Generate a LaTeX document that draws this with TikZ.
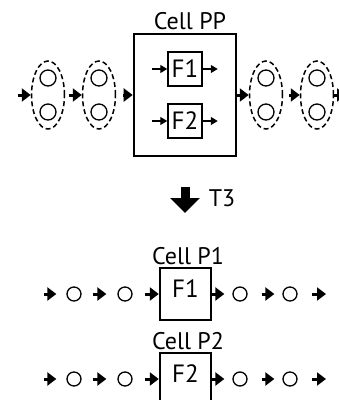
\documentclass[tikz,border=0pt]{standalone}
\usepackage{fontspec}
\setmainfont{PT Sans}
\usetikzlibrary{arrows.meta,shapes.geometric,positioning}

\begin{document}
\begin{tikzpicture}[x=1pt, y=-1pt,
  every node/.style={font=\fontsize{24}{28}\selectfont},
  flow/.style={line width=3pt, -{Triangle[length=9pt, width=13pt]}},
  thinflow/.style={line width=1.4pt, -{Triangle[length=7pt, width=8pt]}},
  bunch/.style={draw, ellipse, line width=1.5pt, dash pattern=on 5pt off 3pt, minimum width=33pt, minimum height=68pt, inner sep=0pt},
  piece/.style={draw, circle, line width=1.3pt, minimum size=16pt, inner sep=0pt},
  smallpiece/.style={draw, circle, line width=1.3pt, minimum size=14pt, inner sep=0pt},
  cellbox/.style={draw, line width=2.6pt, minimum width=102pt, minimum height=122pt},
  funcbox/.style={draw, line width=1.5pt, minimum size=34pt, inner sep=0pt, font=\fontsize{25}{28}\selectfont},
  splitbox/.style={draw, line width=2.4pt, minimum width=51pt, minimum height=52pt, inner sep=0pt, text depth=10pt, font=\fontsize{25}{28}\selectfont}]
  \useasboundingbox (0,0) rectangle (339,400);

  \node (pplbl) at (190,21) {Cell PP};
  \node[cellbox] (pp) at (185,95) {};
  \node[funcbox] (f1) at (185,69) {F1};
  \node[funcbox] (f2) at (185,121) {F2};
  \coordinate[left=15pt of f1] (f1in);
  \coordinate[right=15pt of f1] (f1out);
  \coordinate[left=15pt of f2] (f2in);
  \coordinate[right=15pt of f2] (f2out);
  \draw[thinflow] (f1in) -- (f1);
  \draw[thinflow] (f1) -- (f1out);
  \draw[thinflow] (f2in) -- (f2);
  \draw[thinflow] (f2) -- (f2out);

  \node[bunch] (e1) at (48,95) {};
  \node[bunch] (e2) at (99,95) {};
  \node[bunch] (e3) at (266,95) {};
  \node[bunch] (e4) at (317,95) {};
  \node[piece] (e1a) at (48,78) {};
  \node[piece] (e1b) at (48,112) {};
  \node[piece] (e2a) at (99,78) {};
  \node[piece] (e2b) at (99,112) {};
  \node[piece] (e3a) at (266,78) {};
  \node[piece] (e3b) at (266,112) {};
  \node[piece] (e4a) at (317,78) {};
  \node[piece] (e4b) at (317,112) {};
  \coordinate (ppin) at (18,95);
  \coordinate (ppout) at (346,95);
  \draw[flow] (ppin) -- (e1.west);
  \draw[flow, shorten <=4pt] (e1.east) -- (e2.west);
  \draw[flow, shorten <=7pt] (e2.east) -- (pp.west);
  \draw[flow] (pp.east) -- (e3.west);
  \draw[flow, shorten <=6pt] (e3.east) -- (e4.west);
  \draw[flow] (e4.east) -- (ppout);

  \coordinate (t3top) at (185,187);
  \coordinate (t3tip) at (185,213);
  \draw[line width=9pt, -{Triangle[length=15pt, width=29pt]}] (t3top) -- (t3tip);
  \node (t3) at (222,198) {T3};

  \node (p1lbl) at (188,256) {Cell P1};
  \node[splitbox] (p1) at (185.5,294) {F1};
  \node[smallpiece] (a1) at (74,294) {};
  \node[smallpiece] (a2) at (125,294) {};
  \node[smallpiece] (a3) at (240,294) {};
  \node[smallpiece] (a4) at (290,294) {};
  \coordinate (p1in) at (44,294);
  \coordinate (p1out) at (326,294);
  \draw[flow, shorten >=10pt] (p1in) -- (a1);
  \draw[flow, shorten <=11pt, shorten >=11pt] (a1) -- (a2);
  \draw[flow, shorten <=12pt] (a2) -- (p1);
  \draw[flow, shorten >=8pt] (p1) -- (a3);
  \draw[flow, shorten <=14pt, shorten >=8pt] (a3) -- (a4);
  \draw[flow, shorten <=14pt] (a4) -- (p1out);

  \node (p2lbl) at (188,341) {Cell P2};
  \node[splitbox] (p2) at (185.5,379) {F2};
  \node[smallpiece] (b1) at (74,379) {};
  \node[smallpiece] (b2) at (125,379) {};
  \node[smallpiece] (b3) at (240,379) {};
  \node[smallpiece] (b4) at (290,379) {};
  \coordinate (p2in) at (44,379);
  \coordinate (p2out) at (326,379);
  \draw[flow, shorten >=10pt] (p2in) -- (b1);
  \draw[flow, shorten <=11pt, shorten >=11pt] (b1) -- (b2);
  \draw[flow, shorten <=12pt] (b2) -- (p2);
  \draw[flow, shorten >=8pt] (p2) -- (b3);
  \draw[flow, shorten <=14pt, shorten >=8pt] (b3) -- (b4);
  \draw[flow, shorten <=14pt] (b4) -- (p2out);
\end{tikzpicture}
\end{document}
